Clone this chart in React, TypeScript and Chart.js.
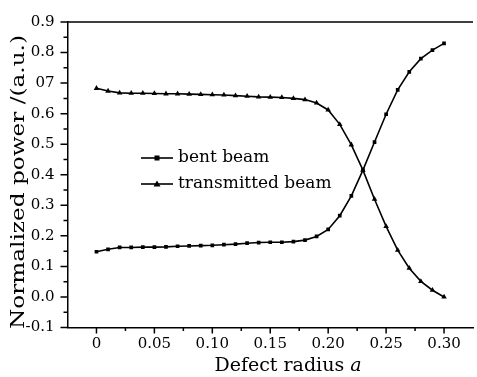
import { useEffect, useRef } from "react";
import { Chart, registerables } from "chart.js";

Chart.register(...registerables);

const radius = [
  0, 0.01, 0.02, 0.03, 0.04, 0.05, 0.06, 0.07, 0.08, 0.09, 0.1, 0.11, 0.12, 0.13, 0.14, 0.15,
  0.16, 0.17, 0.18, 0.19, 0.2, 0.21, 0.22, 0.23, 0.24, 0.25, 0.26, 0.27, 0.28, 0.29, 0.3,
];
const bentBeam = [
  0.148, 0.156, 0.162, 0.162, 0.163, 0.163, 0.164, 0.166, 0.167, 0.168, 0.169, 0.171, 0.173,
  0.176, 0.178, 0.179, 0.179, 0.181, 0.186, 0.198, 0.221, 0.266, 0.331, 0.415, 0.507, 0.598,
  0.678, 0.737, 0.78, 0.808, 0.83,
];
const transmittedBeam = [
  0.683, 0.674, 0.668, 0.667, 0.667, 0.666, 0.665, 0.665, 0.664, 0.663, 0.662, 0.661, 0.659,
  0.657, 0.655, 0.654, 0.653, 0.65, 0.646, 0.635, 0.612, 0.565, 0.498, 0.415, 0.32, 0.231,
  0.153, 0.094, 0.051, 0.022, 0.0,
];
const seriesLabels = ["bent beam", "transmitted beam"];
const xTicks = [0, 0.05, 0.1, 0.15, 0.2, 0.25, 0.3];
const xTickLabels = ["0", "0.05", "0.10", "0.15", "0.20", "0.25", "0.30"];
const yTicks = [-0.1, 0, 0.1, 0.2, 0.3, 0.4, 0.5, 0.6, 0.7, 0.8, 0.9];
const yTickLabels = ["-0.1", "0.0", "0.1", "0.2", "0.3", "0.4", "0.5", "0.6", "07", "0.8", "0.9"];
const xTitleText = "Defect radius ";
const xTitleVar = "a";
const yTitleText = "Normalized power /(a.u.)";

const FONT = "'DejaVu Serif', serif";

const framePlugin = {
  id: "frame",
  afterDraw(chart: any) {
    const { ctx, chartArea: a, scales } = chart;
    const x = scales.x;
    const y = scales.y;
    ctx.save();
    ctx.strokeStyle = "#000";
    ctx.lineWidth = 1.5;
    ctx.beginPath();
    ctx.moveTo(a.left - 0.75, a.top);
    ctx.lineTo(a.right, a.top);
    for (let i = 0; i < yTicks.length; i++) {
      const py = y.getPixelForValue(yTicks[i]);
      ctx.moveTo(a.left, py);
      ctx.lineTo(a.left - 7, py);
      if (i < yTicks.length - 1) {
        const pm = y.getPixelForValue((yTicks[i] + yTicks[i + 1]) / 2);
        ctx.moveTo(a.left, pm);
        ctx.lineTo(a.left - 4, pm);
      }
    }
    for (let i = 0; i < xTicks.length; i++) {
      const px = x.getPixelForValue(xTicks[i]);
      ctx.moveTo(px, a.bottom);
      ctx.lineTo(px, a.bottom + 6);
      if (i < xTicks.length - 1) {
        const pm = x.getPixelForValue((xTicks[i] + xTicks[i + 1]) / 2);
        ctx.moveTo(pm, a.bottom);
        ctx.lineTo(pm, a.bottom + 3.5);
      }
    }
    ctx.stroke();

    // legend
    const rows = [158, 184];
    chart.data.datasets.forEach((ds: any, i: number) => {
      const ly = rows[i];
      ctx.beginPath();
      ctx.lineWidth = 1.6;
      ctx.moveTo(141, ly);
      ctx.lineTo(173, ly);
      ctx.stroke();
      ctx.fillStyle = "#000";
      if (ds.pointStyle === "rect") {
        ctx.fillRect(157 - 2.5, ly - 2.5, 5, 5);
      } else {
        ctx.beginPath();
        ctx.moveTo(157, ly - 3.5);
        ctx.lineTo(160.5, ly + 2.5);
        ctx.lineTo(153.5, ly + 2.5);
        ctx.closePath();
        ctx.fill();
      }
      ctx.font = `17px ${FONT}`;
      ctx.textBaseline = "middle";
      ctx.textAlign = "left";
      ctx.fillText(ds.label, 178, ly);
    });

    // x title with italic variable
    ctx.fillStyle = "#000";
    ctx.textBaseline = "middle";
    ctx.textAlign = "left";
    ctx.font = `19px ${FONT}`;
    const w1 = ctx.measureText(xTitleText).width;
    ctx.font = `italic 19px ${FONT}`;
    const w2 = ctx.measureText(xTitleVar).width;
    const xs = 288 - (w1 + w2) / 2;
    ctx.font = `19px ${FONT}`;
    ctx.fillText(xTitleText, xs, 366);
    ctx.font = `italic 19px ${FONT}`;
    ctx.fillText(xTitleVar, xs + w1, 366);

    // y title, stretched along its length
    ctx.font = `18px ${FONT}`;
    const wy = ctx.measureText(yTitleText).width;
    const target = 294;
    ctx.translate(24, 182);
    ctx.rotate(-Math.PI / 2);
    ctx.scale(target / wy, 1);
    ctx.textAlign = "center";
    ctx.textBaseline = "alphabetic";
    ctx.fillText(yTitleText, 0, 0);
    ctx.restore();
  },
};

export default function App() {
  const ref = useRef<HTMLCanvasElement>(null);
  useEffect(() => {
    const canvas = ref.current!;
    const chart = new Chart(canvas, {
      type: "line",
      data: {
        datasets: [
          {
            label: seriesLabels[0],
            data: radius.map((r, i) => ({ x: r, y: bentBeam[i] })),
            borderColor: "#000",
            backgroundColor: "#000",
            borderWidth: 1.6,
            pointStyle: "rect",
            pointRadius: 2.6,
            pointBorderWidth: 0,
            tension: 0,
          },
          {
            label: seriesLabels[1],
            data: radius.map((r, i) => ({ x: r, y: transmittedBeam[i] })),
            borderColor: "#000",
            backgroundColor: "#000",
            borderWidth: 1.6,
            pointStyle: "triangle",
            pointRadius: 3.2,
            pointBorderWidth: 0,
            tension: 0,
          },
        ],
      },
      options: {
        responsive: false,
        animation: false,
        events: [],
        layout: { padding: { top: 18, left: 0, right: 0, bottom: 0 } },
        plugins: { legend: { display: false }, tooltip: { enabled: false } },
        scales: {
          x: {
            type: "linear",
            min: -0.025,
            max: 0.325,
            grid: { display: false, drawTicks: false },
            border: { display: true, color: "#000", width: 1.5 },
            afterBuildTicks: (s: any) => {
              s.ticks = xTicks.map((v) => ({ value: v }));
            },
            afterFit: (s: any) => {
              s.height = 49.5;
            },
            ticks: {
              color: "#000",
              padding: 8,
              maxRotation: 0,
              autoSkip: false,
              font: { family: FONT, size: 15 },
              callback: (_v: any, i: number) => xTickLabels[i],
            },
          },
          y: {
            type: "linear",
            min: -0.1,
            max: 0.9,
            grid: { display: false, drawTicks: false },
            border: { display: true, color: "#000", width: 1.5 },
            afterBuildTicks: (s: any) => {
              s.ticks = yTicks.map((v) => ({ value: v }));
            },
            afterFit: (s: any) => {
              s.width = 67.5;
            },
            ticks: {
              color: "#000",
              padding: 13,
              autoSkip: false,
              font: { family: FONT, size: 15 },
              callback: (_v: any, i: number) => yTickLabels[i],
            },
          },
        },
      },
      plugins: [framePlugin],
    });
    return () => chart.destroy();
  }, []);
  return (
    <div style={{ position: "absolute", left: 0, top: 0, width: 477, height: 377, background: "#fff" }}>
      <canvas ref={ref} width={477} height={377} style={{ display: "block" }} />
    </div>
  );
}
